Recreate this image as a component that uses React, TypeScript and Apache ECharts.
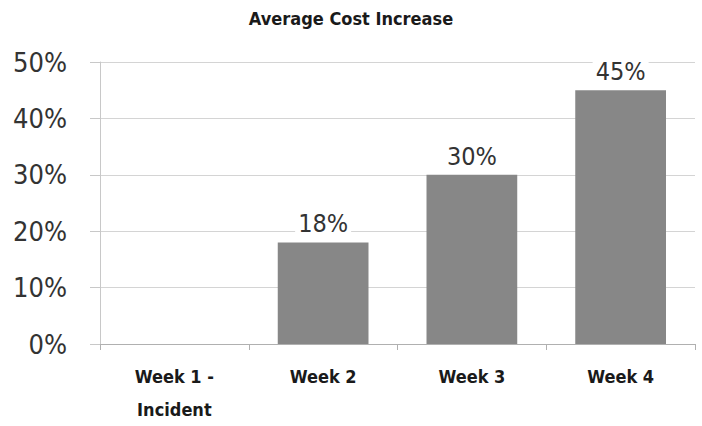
import React, { useEffect, useRef } from "react";
import * as echarts from "echarts";

const categories = ["Week 1 -\nIncident", "Week 2", "Week 3", "Week 4"];
const costIncrease = [0, 18, 30, 45];
const yTicks = [0, 10, 20, 30, 40, 50];

const narrow = '"DejaVu Sans Condensed", "Open Sans", sans-serif';

export default function App() {
  const ref = useRef<HTMLDivElement>(null);
  useEffect(() => {
    if (!ref.current) return;
    const chart = echarts.init(ref.current, null, { renderer: "svg" });
    chart.setOption({
      animation: false,
      backgroundColor: "#ffffff",
      title: {
        text: "Average Cost Increase",
        left: "center",
        top: 4,
        textStyle: { fontFamily: narrow, fontWeight: "bold", fontSize: 18, color: "#1a1a1a" },
      },
      grid: { left: 100, right: 7, top: 62, bottom: 74, containLabel: false },
      xAxis: {
        type: "category",
        data: categories,
        axisLine: { show: true, lineStyle: { color: "#b0b0b0", width: 1 } },
        axisTick: { show: true, alignWithLabel: false, length: 6, lineStyle: { color: "#b0b0b0" } },
        axisLabel: {
          margin: 16,
          fontFamily: narrow,
          fontWeight: "bold",
          fontSize: 18,
          lineHeight: 33,
          color: "#1a1a1a",
        },
      },
      yAxis: {
        type: "value",
        min: yTicks[0],
        max: yTicks[yTicks.length - 1],
        interval: 10,
        axisLine: { show: true, lineStyle: { color: "#c8c8c8" } },
        axisTick: { show: true, length: 10, lineStyle: { color: "#c8c8c8" } },
        splitLine: { show: true, lineStyle: { color: "#d4d4d4", width: 1 } },
        axisLabel: {
          margin: 33,
          fontFamily: narrow,
          fontSize: 27,
          color: "#333333",
          formatter: (v: number) => `${v}%`,
        },
      },
      series: [
        {
          type: "bar",
          data: costIncrease,
          barWidth: "61%",
          itemStyle: { color: "#878787" },
          label: {
            show: true,
            position: "top",
            distance: 6,
            fontFamily: narrow,
            fontSize: 25,
            color: "#333333",
            backgroundColor: "#ffffff",
            padding: [0, 3],
            formatter: (p: any) => (p.value ? `${p.value}%` : ""),
          },
        },
      ],
    });
    return () => chart.dispose();
  }, []);
  return (
    <div
      ref={ref}
      style={{ position: "absolute", left: 0, top: 0, width: 702, height: 426 }}
    />
  );
}
